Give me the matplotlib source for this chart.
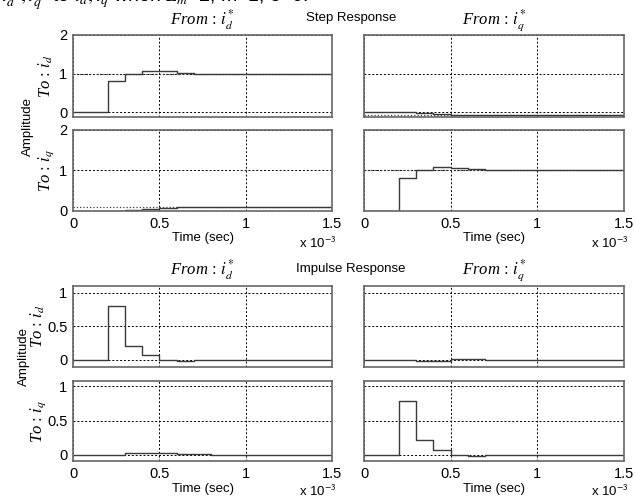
import matplotlib.pyplot as plt

plt.rcParams['mathtext.fontset'] = 'stix'
plt.rcParams['font.family'] = ['Liberation Sans', 'DejaVu Sans']

# sample instants (x 1e-3 sec), Ts = 0.1 ms
t = [0.0, 0.1, 0.2, 0.3, 0.4, 0.5, 0.6, 0.7, 0.8, 0.9, 1.0, 1.1, 1.2, 1.3, 1.4, 1.5]

# step responses  (from -> to)
step_dd = [0, 0, 0.81, 1.0, 1.07, 1.06, 1.03, 1.0, 1.0, 1.0, 1.0, 1.0, 1.0, 1.0, 1.0, 1.0]
step_qd = [0, 0, 0, -0.02, -0.04, -0.06, -0.08, -0.08, -0.08, -0.08, -0.08, -0.08, -0.08, -0.08, -0.08, -0.08]
step_dq = [0, 0, 0, 0.03, 0.05, 0.08, 0.09, 0.09, 0.09, 0.09, 0.09, 0.09, 0.09, 0.09, 0.09, 0.09]
step_qq = [0, 0, 0.82, 1.0, 1.08, 1.06, 1.04, 1.02, 1.0, 1.0, 1.0, 1.0, 1.0, 1.0, 1.0, 1.0]
step_ss = [[1.0, -0.08], [0.09, 1.0]]

# impulse responses
imp_dd = [0, 0, 0.8, 0.2, 0.065, -0.01, -0.02, -0.01, -0.01, 0, 0, 0, 0, 0, 0, 0]
imp_qd = [0, 0, 0, -0.015, -0.015, 0.005, 0.005, 0, 0, 0, 0, 0, 0, 0, 0, 0]
imp_dq = [0, 0, 0, 0.03, 0.03, 0.03, 0.01, 0.01, 0, 0, 0, 0, 0, 0, 0, 0]
imp_qq = [0, 0, 0.79, 0.21, 0.077, -0.005, -0.01, 0.005, 0.005, 0, 0, 0, 0, 0, 0, 0]

xticks = [0, 0.5, 1, 1.5]
xticklabels = ['0', '0.5', '1', '1.5']
from_labels = [r'From$\,:\,i_d^{*}$', r'From$\,:\,i_q^{*}$']
to_labels = [r'To$\,:\,i_d$', r'To$\,:\,i_q$']

W, H = 635, 500
fig = plt.figure(figsize=(W / 100, H / 100), dpi=100)

LINE = '#3a3a3a'
FRAME = '#666666'
cols = [(73, 332), (364, 624)]


def make_ax(x0, x1, y0, y1):
    return fig.add_axes([x0 / W, 1 - y1 / H, (x1 - x0) / W, (y1 - y0) / H])


def style(ax, ylim, yticks, show_y, show_x):
    ax.set_xlim(0, 1.5)
    ax.set_ylim(*ylim)
    ax.set_xticks(xticks)
    ax.set_yticks(yticks)
    ax.grid(True, color='black', linestyle=(0, (2, 2)), linewidth=0.7)
    ax.tick_params(direction='in', length=0, labelsize=10.5, pad=4)
    if show_x:
        ax.set_xticklabels(xticklabels)
    else:
        ax.set_xticklabels([])
    if show_y:
        ax.set_yticklabels([('%g' % v) for v in yticks])
    else:
        ax.set_yticklabels([])
    for s in ax.spines.values():
        s.set_color(FRAME)
        s.set_linewidth(1.2)


def block(data, rows, ylims, yticks, to_x, ss=None):
    for r in range(2):
        for c in range(2):
            ax = make_ax(cols[c][0], cols[c][1], rows[r][0], rows[r][1])
            ax.step(t, data[r][c], where='post', color=LINE, linewidth=1.0)
            if ss is not None:
                ax.axhline(ss[r][c], color=LINE, linestyle=':', linewidth=0.9)
            style(ax, ylims[r], yticks, c == 0, r == 1)
            if c == 0:
                yc = (rows[r][0] + rows[r][1]) / 2
                fig.text(to_x / W, 1 - yc / H, to_labels[r], rotation=90,
                         ha='center', va='center', fontsize=12,
                         family='Liberation Serif', style='italic')


# top caption (cut at the top edge, as in the source page)
fig.text(1 / W, 1 - 3 / H, r'$i_d^*, i_q^*$ to $i_d, i_q$ when $L_m$=2, m=1, δ=0.',
         fontsize=14, ha='left', va='baseline')

# ---- step response ----
step_rows = [(35, 117), (130, 211)]
block([[step_dd, step_qd], [step_dq, step_qq]], step_rows,
      [(-0.12, 2), (0, 2)], [0, 1, 2], 46, step_ss)
fig.text(351 / W, 1 - 18 / H, 'Step Response', ha='center', va='center', fontsize=9.5)
fig.text(28 / W, 1 - 126 / H, 'Amplitude', rotation=90, ha='center', va='center', fontsize=9.5)

# ---- impulse response ----
imp_rows = [(286, 367), (381, 461)]
block([[imp_dd, imp_qd], [imp_dq, imp_qq]], imp_rows,
      [(-0.11, 1.1), (-0.09, 1.08)], [0, 0.5, 1], 38)
fig.text(351 / W, 1 - 269 / H, 'Impulse Response', ha='center', va='center', fontsize=9.5)
fig.text(24 / W, 1 - 356 / H, 'Amplitude', rotation=90, ha='center', va='center', fontsize=9.5)

for i, (x0, x1) in enumerate(cols):
    xc = (x0 + x1) / 2
    fig.text(xc / W, 1 - 20 / H, from_labels[i], ha='center', va='center',
             fontsize=12, family='Liberation Serif', style='italic')
    fig.text(xc / W, 1 - 270 / H, from_labels[i], ha='center', va='center',
             fontsize=12, family='Liberation Serif', style='italic')
    fig.text(xc / W, 1 - 238 / H, 'Time (sec)', ha='center', va='center', fontsize=9.5)
    fig.text(xc / W, 1 - 489 / H, 'Time (sec)', ha='center', va='center', fontsize=9.5)
    fig.text((x1 - 33) / W, 1 - 243 / H, r'x 10$^{\mathsf{-3}}$', ha='left', va='center', fontsize=9.5)
    fig.text((x1 - 33) / W, 1 - 491 / H, r'x 10$^{\mathsf{-3}}$', ha='left', va='center', fontsize=9.5)

fig.savefig('out.png', dpi=100)
